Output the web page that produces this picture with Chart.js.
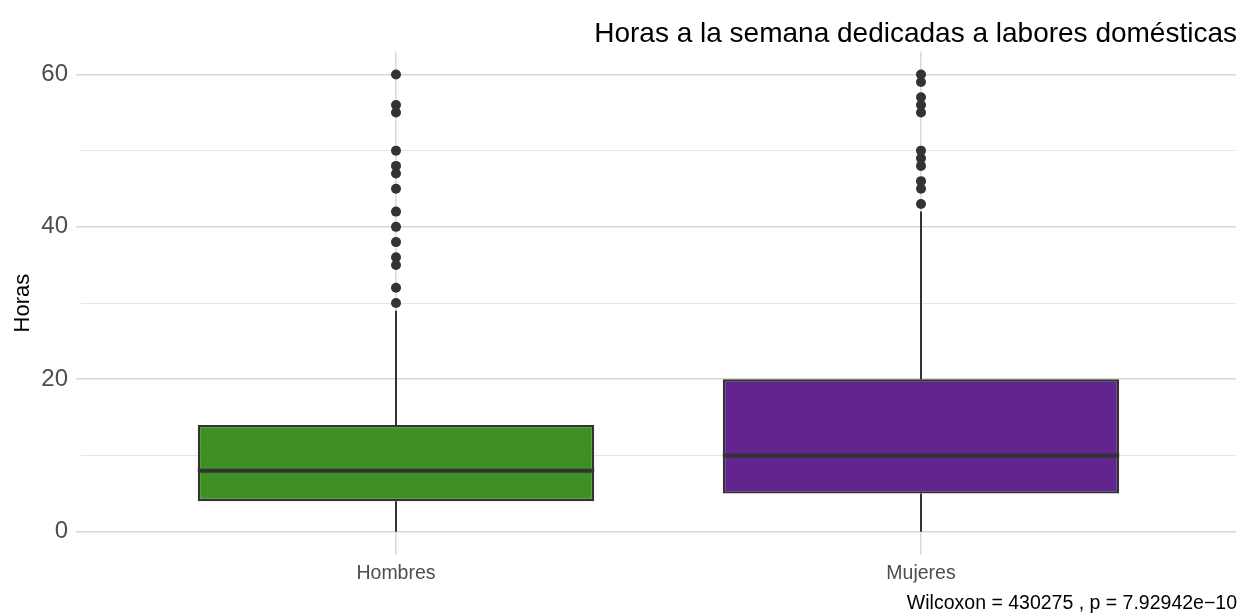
<!DOCTYPE html>
<html>
<head>
<meta charset="utf-8">
<script src="https://cdn.jsdelivr.net/npm/chart.js@4/dist/chart.umd.min.js"></script>
<style>
  html, body { margin: 0; padding: 0; background: #fff; }
  #wrap { width: 1241px; height: 613px; position: relative; }
</style>
</head>
<body>
<div id="wrap"><canvas id="boxChart"></canvas></div>
<script>
// datos del boxplot
const categories = ['Hombres', 'Mujeres'];
const lowerWhisker = [0, 0];
const q1 = [4, 5];
const median = [8, 10];
const q3 = [14, 20];
const upperWhisker = [29, 42];
const outHombres = [30, 32, 35, 36, 38, 40, 42, 45, 47, 48, 50, 55, 56, 60];
const outMujeres = [43, 45, 46, 48, 49, 50, 55, 56, 57, 59, 60];
const yTicks = [0, 20, 40, 60];
const boxColors = ['#3e8f24', '#62248f'];

const FONT = '"Liberation Sans", Arial, sans-serif';
const INK = '#333333';

// bigotes y mediana con las escalas del chart
const boxLines = {
  id: 'boxLines',
  beforeDatasetsDraw(chart) {
    const { ctx, scales: { x, y } } = chart;
    ctx.save();
    ctx.strokeStyle = INK;
    ctx.lineWidth = 2;
    categories.forEach((c, i) => {
      const px = x.getPixelForValue(i + 1);
      ctx.beginPath();
      ctx.moveTo(px, y.getPixelForValue(lowerWhisker[i]));
      ctx.lineTo(px, y.getPixelForValue(q1[i]));
      ctx.moveTo(px, y.getPixelForValue(q3[i]));
      ctx.lineTo(px, y.getPixelForValue(upperWhisker[i]));
      ctx.stroke();
    });
    ctx.restore();
  },
  afterDatasetsDraw(chart) {
    const { ctx, scales: { y } } = chart;
    const bars = chart.getDatasetMeta(0).data;
    ctx.save();
    ctx.strokeStyle = INK;
    ctx.lineWidth = 4;
    bars.forEach((bar, i) => {
      const py = y.getPixelForValue(median[i]);
      ctx.beginPath();
      ctx.moveTo(bar.x - bar.width / 2, py);
      ctx.lineTo(bar.x + bar.width / 2, py);
      ctx.stroke();
    });
    ctx.restore();
  }
};

const ctx = document.getElementById('boxChart');
new Chart(ctx, {
  type: 'bar',
  data: {
    datasets: [
      {
        type: 'bar',
        data: categories.map((c, i) => ({ x: i + 1, y: [q1[i], q3[i]] })),
        backgroundColor: boxColors,
        borderColor: INK,
        borderWidth: 2.4,
        borderSkipped: false,
        barPercentage: 0.755,
        categoryPercentage: 1,
        grouped: false
      },
      {
        type: 'scatter',
        data: outHombres.map(v => ({ x: 1, y: v }))
          .concat(outMujeres.map(v => ({ x: 2, y: v }))),
        backgroundColor: INK,
        borderWidth: 0,
        pointRadius: 5
      }
    ]
  },
  options: {
    responsive: true,
    maintainAspectRatio: false,
    animation: false,
    layout: { padding: { left: 0, right: 4, top: 0, bottom: 0 } },
    scales: {
      x: {
        type: 'linear',
        min: 0.4,
        max: 2.6,
        offset: false,
        afterBuildTicks: (scale) => {
          scale.ticks = categories.map((c, i) => ({ value: i + 1 }));
        },
        afterFit: (scale) => { scale.height = 28; },
        ticks: {
          callback: (v) => categories[v - 1] || '',
          color: '#4d4d4d',
          font: { family: FONT, size: 19.5, lineHeight: 1 },
          padding: 9,
          maxRotation: 0
        },
        grid: { color: '#d9d9d9', lineWidth: 1.5, drawTicks: false, offset: false },
        border: { display: false }
      },
      y: {
        min: -3,
        max: 63,
        afterBuildTicks: (scale) => {
          scale.ticks = [0, 10, 20, 30, 40, 50, 60].map(v => ({ value: v }));
        },
        afterFit: (scale) => { scale.width = 81; },
        ticks: {
          callback: (v) => yTicks.includes(v) ? String(v) : '',
          color: '#4d4d4d',
          font: { family: FONT, size: 24 },
          padding: 8
        },
        grid: {
          color: (c) => yTicks.includes(c.tick.value) ? '#d6d6d6' : '#e6e6e6',
          lineWidth: (c) => yTicks.includes(c.tick.value) ? 1.5 : 1,
          tickColor: (c) => yTicks.includes(c.tick.value) ? '#d6d6d6' : 'rgba(0,0,0,0)',
          tickLength: 5
        },
        border: { display: false },
        title: {
          display: true,
          text: 'Horas',
          color: '#000',
          font: { family: FONT, size: 22 },
          padding: { top: 10, bottom: 0 }
        }
      }
    },
    plugins: {
      legend: { display: false },
      tooltip: { enabled: false },
      title: {
        display: true,
        text: 'Horas a la semana dedicadas a labores domésticas',
        align: 'end',
        color: '#000',
        font: { family: FONT, size: 28, weight: 'normal' },
        padding: { top: 17, bottom: 1 }
      },
      subtitle: {
        display: true,
        position: 'bottom',
        align: 'end',
        text: 'Wilcoxon = 430275 , p = 7.92942e\u221210',
        color: '#000',
        font: { family: FONT, size: 19.5, lineHeight: 1 },
        padding: { top: 11, bottom: 0 }
      }
    }
  },
  plugins: [boxLines]
});
</script>
</body>
</html>
